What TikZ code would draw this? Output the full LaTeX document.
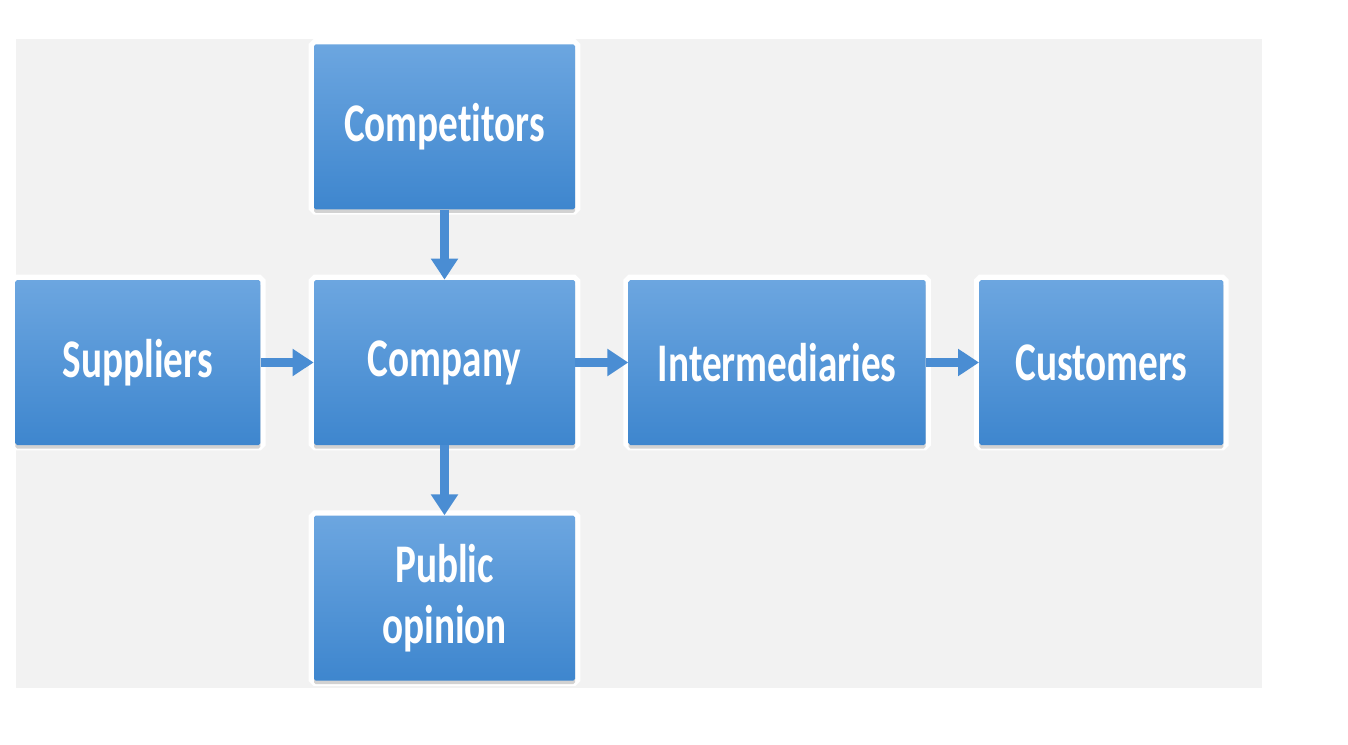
\documentclass[tikz,border=0pt]{standalone}
\usepackage{fontspec}
\setmainfont{Carlito}
\newfontfamily\boxfont[FakeStretch=0.72,Ligatures={NoCommon}]{Carlito}
\usepackage{tikz}
\usetikzlibrary{arrows.meta,positioning,shadows}
\definecolor{boxtop}{RGB}{108,166,224}
\definecolor{boxbottom}{RGB}{62,134,206}
\definecolor{flowblue}{RGB}{74,141,211}
\definecolor{panelgray}{RGB}{242,242,242}

\begin{document}
\begin{tikzpicture}[
        actor/.style={
                minimum width=5.22cm,
                minimum height=3.3cm,
                align=center,
                rounded corners=1pt,
                top color=boxtop,
                bottom color=boxbottom,
                text=white,
                font=\boxfont\bfseries\fontsize{31}{35}\selectfont,
                preaction={draw=white, line width=6pt},
                drop shadow={shadow xshift=0pt, shadow yshift=-2pt, opacity=0.35}
            },
        flow/.style={
                draw=flowblue,
                line width=5pt,
                -{Triangle[length=0.42cm,width=0.52cm]}
            },
        node distance=1.4cm and 1.06cm
    ]
    \useasboundingbox (0,0) rectangle (26.96,-14.9);
    %panel
    \fill[panelgray] (0.32,-0.78) rectangle (25.24,-13.76);

    %actors
    \node[actor] (company) at (8.89,-7.25) {Company};
    \node[actor, above=of company] (competitors) {Competitors};
    \node[actor, below=of company] (public) {Public\\opinion};
    \node[actor, minimum width=4.9cm, left=of company] (suppliers) {Suppliers};
    \node[actor, minimum width=5.94cm, right=of company] (intermediaries) {Intermediaries};
    \node[actor, minimum width=4.88cm, right=of intermediaries] (customers) {Customers};

    %flows
    \draw[flow] (competitors) -- (company);
    \draw[flow] (company) -- (public);
    \draw[flow] (suppliers) -- (company);
    \draw[flow] (company) -- (intermediaries);
    \draw[flow] (intermediaries) -- (customers);
\end{tikzpicture}
\end{document}
